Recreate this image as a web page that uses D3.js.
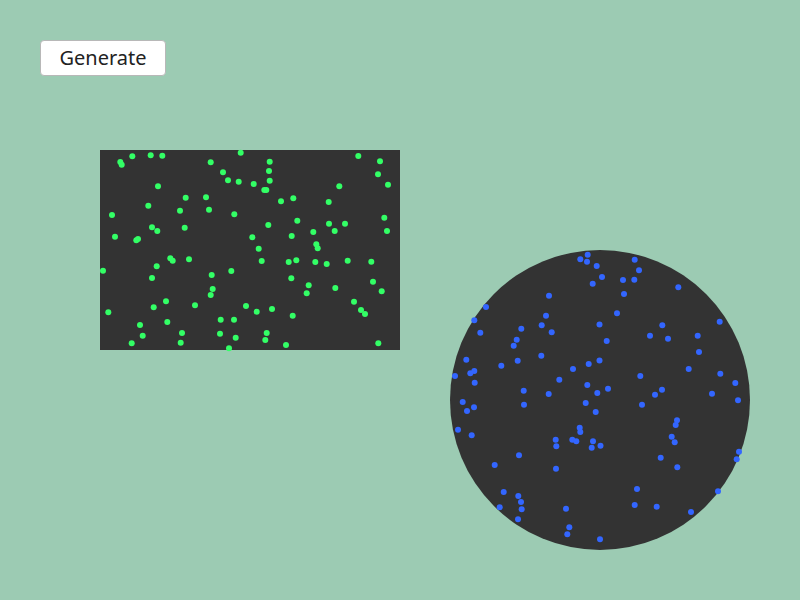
<!DOCTYPE html>
<html>
<head>
<meta charset="utf-8">
<script src="https://cdn.jsdelivr.net/npm/d3@7"></script>
<style>
  html, body { margin: 0; padding: 0; background: #9ccbb3; width: 800px; height: 600px; overflow: hidden; }
  #gen { position: absolute; left: 40px; top: 40px; width: 126px; height: 36px; box-sizing: border-box;
         background: #fff; border: 1px solid #b8b8b8; border-radius: 4px; font-family: "Noto Sans", sans-serif;
         font-size: 20px; color: #222; padding: 0 0 0 0; line-height: 34px; cursor: pointer; }
  svg { position: absolute; left: 0; top: 0; }
</style>
</head>
<body>
<button id="gen">Generate</button>
<svg id="chart" width="800" height="600"></svg>
<script>
// Rectangle points (relative to rectangle origin, domain 0..300 x 0..200)
const greenX = [140.7,20.3,21.7,32.3,50.7,62.3,110.7,123,128,138.7,58,85.7,106,48.3,80,109,134.3,12,52,57.3,84.7,15,36.3,38,70.3,72.7,89,3,56.7,131.3,52,111.7,112.7,110.7,66,53.7,95,146,8.3,120.7,134,67.3,40,42.7,82,120,135.7,31.7,80.7,129,
  258.3,280,169.7,169,278,169.7,153.7,288,239.3,164.3,166.3,193.3,181,228.7,284.3,197.3,168.3,229,245,287,234.7,213.3,191.7,152.3,216.3,217.7,158.7,161.7,188.7,196.3,215.3,226.7,247.7,271.3,191.3,273,208.7,235.3,281.7,206.7,254,156.7,172,192.7,261,265,166.7,165.3,186,278.3];
const greenY = [2.7,12,14.7,6.3,5.3,5.7,12.3,22.3,30.3,31.7,36.3,47.7,47.3,55.7,60.7,59.7,64.3,65,77.3,81,77.7,86.7,90.3,89,108.3,110.7,109.3,120.7,116.3,121,128,125,139,145,151.3,157.3,155.3,156,162.3,169.7,169.7,172,175,185.7,183,183.7,187.7,193.3,192.7,198.3,
  6,11.3,11.7,21,24.3,30.7,34,34.7,36.3,40,40,48.3,51.3,52,67.7,70.7,75,73.7,73.7,81,81,82,86,87.3,94.3,98.3,98.7,111,112,110.3,112,114,110.7,111.7,128.3,131.7,135.3,138,141.3,143.3,151.7,161.7,159,165.7,160,164,183,190,195,193.3];

// Circle points (relative to circle centre, domain -150..150)
const blueX = [-12.3,-19.7,-13,-3.3,-7.3,-51,-114,-54,-125.7,-78.7,-58.3,-0.5,-119.7,-48.3,-83.3,-86.3,-58.7,-133.7,-82.3,-11.3,-0.5,-98.7,-27,-125.7,-129.7,-145,-40.7,-125.3,-12.7,-76.3,-51.3,-2.7,
  34.7,39,2,23,34.3,78.3,24,17,119.7,62.3,50,68,97.7,6.7,99,88.7,120.3,40.3,135.3,8,62,55,112,138,
  -137.3,-133,-126,-76,-14.3,-4.3,-142,-128.3,-20.3,-19.7,-44.3,-43.7,-27.7,-23.7,-7,-8.3,0.5,-81,-105.3,-44,-96.3,-81.7,-79,-100.3,-78.3,-34,-82,-30.7,-32.7,0,
  42,77,75.7,71.7,74.7,139,136.7,60.7,77.3,37,118,34.7,56.7,91];
const blueY = [-145.3,-140.7,-138.3,-134,-116.3,-104.3,-93,-84.3,-79.7,-71.3,-74.7,-75.5,-67.3,-67.7,-60.3,-54.3,-44.3,-40.3,-39.3,-36,-39.5,-34.3,-31,-29,-26.7,-24,-20.3,-17.3,-15,-9.3,-6,-7,
  -140.3,-129.7,-123,-120,-120.3,-112.7,-106,-86.7,-78.3,-74.7,-64.3,-61.3,-64.3,-59,-48,-31,-26.3,-24,-17,-11.3,-10.3,-5.3,-6.3,0.3,
  2,11,7.3,4.7,3,12,29.7,35.3,27.7,32,39.7,46.3,39.7,41.3,41.3,47.7,45.7,55.3,65,68.7,92,96,102,107.3,109.3,108.7,119.3,127.3,134.3,139.3,
  4.7,20.3,25,36.7,42.3,51.7,59.3,57.7,67.3,89,91.3,105,106.7,112];

const svg = d3.select("#chart");

// Rectangle panel
const rx = d3.scaleLinear().domain([0, 300]).range([100, 400]);
const ry = d3.scaleLinear().domain([0, 200]).range([150, 350]);
svg.append("rect")
  .attr("x", rx(0)).attr("y", ry(0))
  .attr("width", rx(300) - rx(0)).attr("height", ry(200) - ry(0))
  .attr("fill", "#333");
svg.append("g").selectAll("circle")
  .data(d3.range(greenX.length))
  .join("circle")
  .attr("cx", i => rx(greenX[i]))
  .attr("cy", i => ry(greenY[i]))
  .attr("r", 3)
  .attr("fill", "#33ff66");

// Circle panel
const cx = d3.scaleLinear().domain([-150, 150]).range([450, 750]);
const cy = d3.scaleLinear().domain([-150, 150]).range([250, 550]);
svg.append("circle")
  .attr("cx", cx(0)).attr("cy", cy(0))
  .attr("r", cx(150) - cx(0))
  .attr("fill", "#333");
svg.append("g").selectAll("circle")
  .data(d3.range(blueX.length))
  .join("circle")
  .attr("cx", i => cx(blueX[i]))
  .attr("cy", i => cy(blueY[i]))
  .attr("r", 3)
  .attr("fill", "#3366ff");
</script>
</body>
</html>
